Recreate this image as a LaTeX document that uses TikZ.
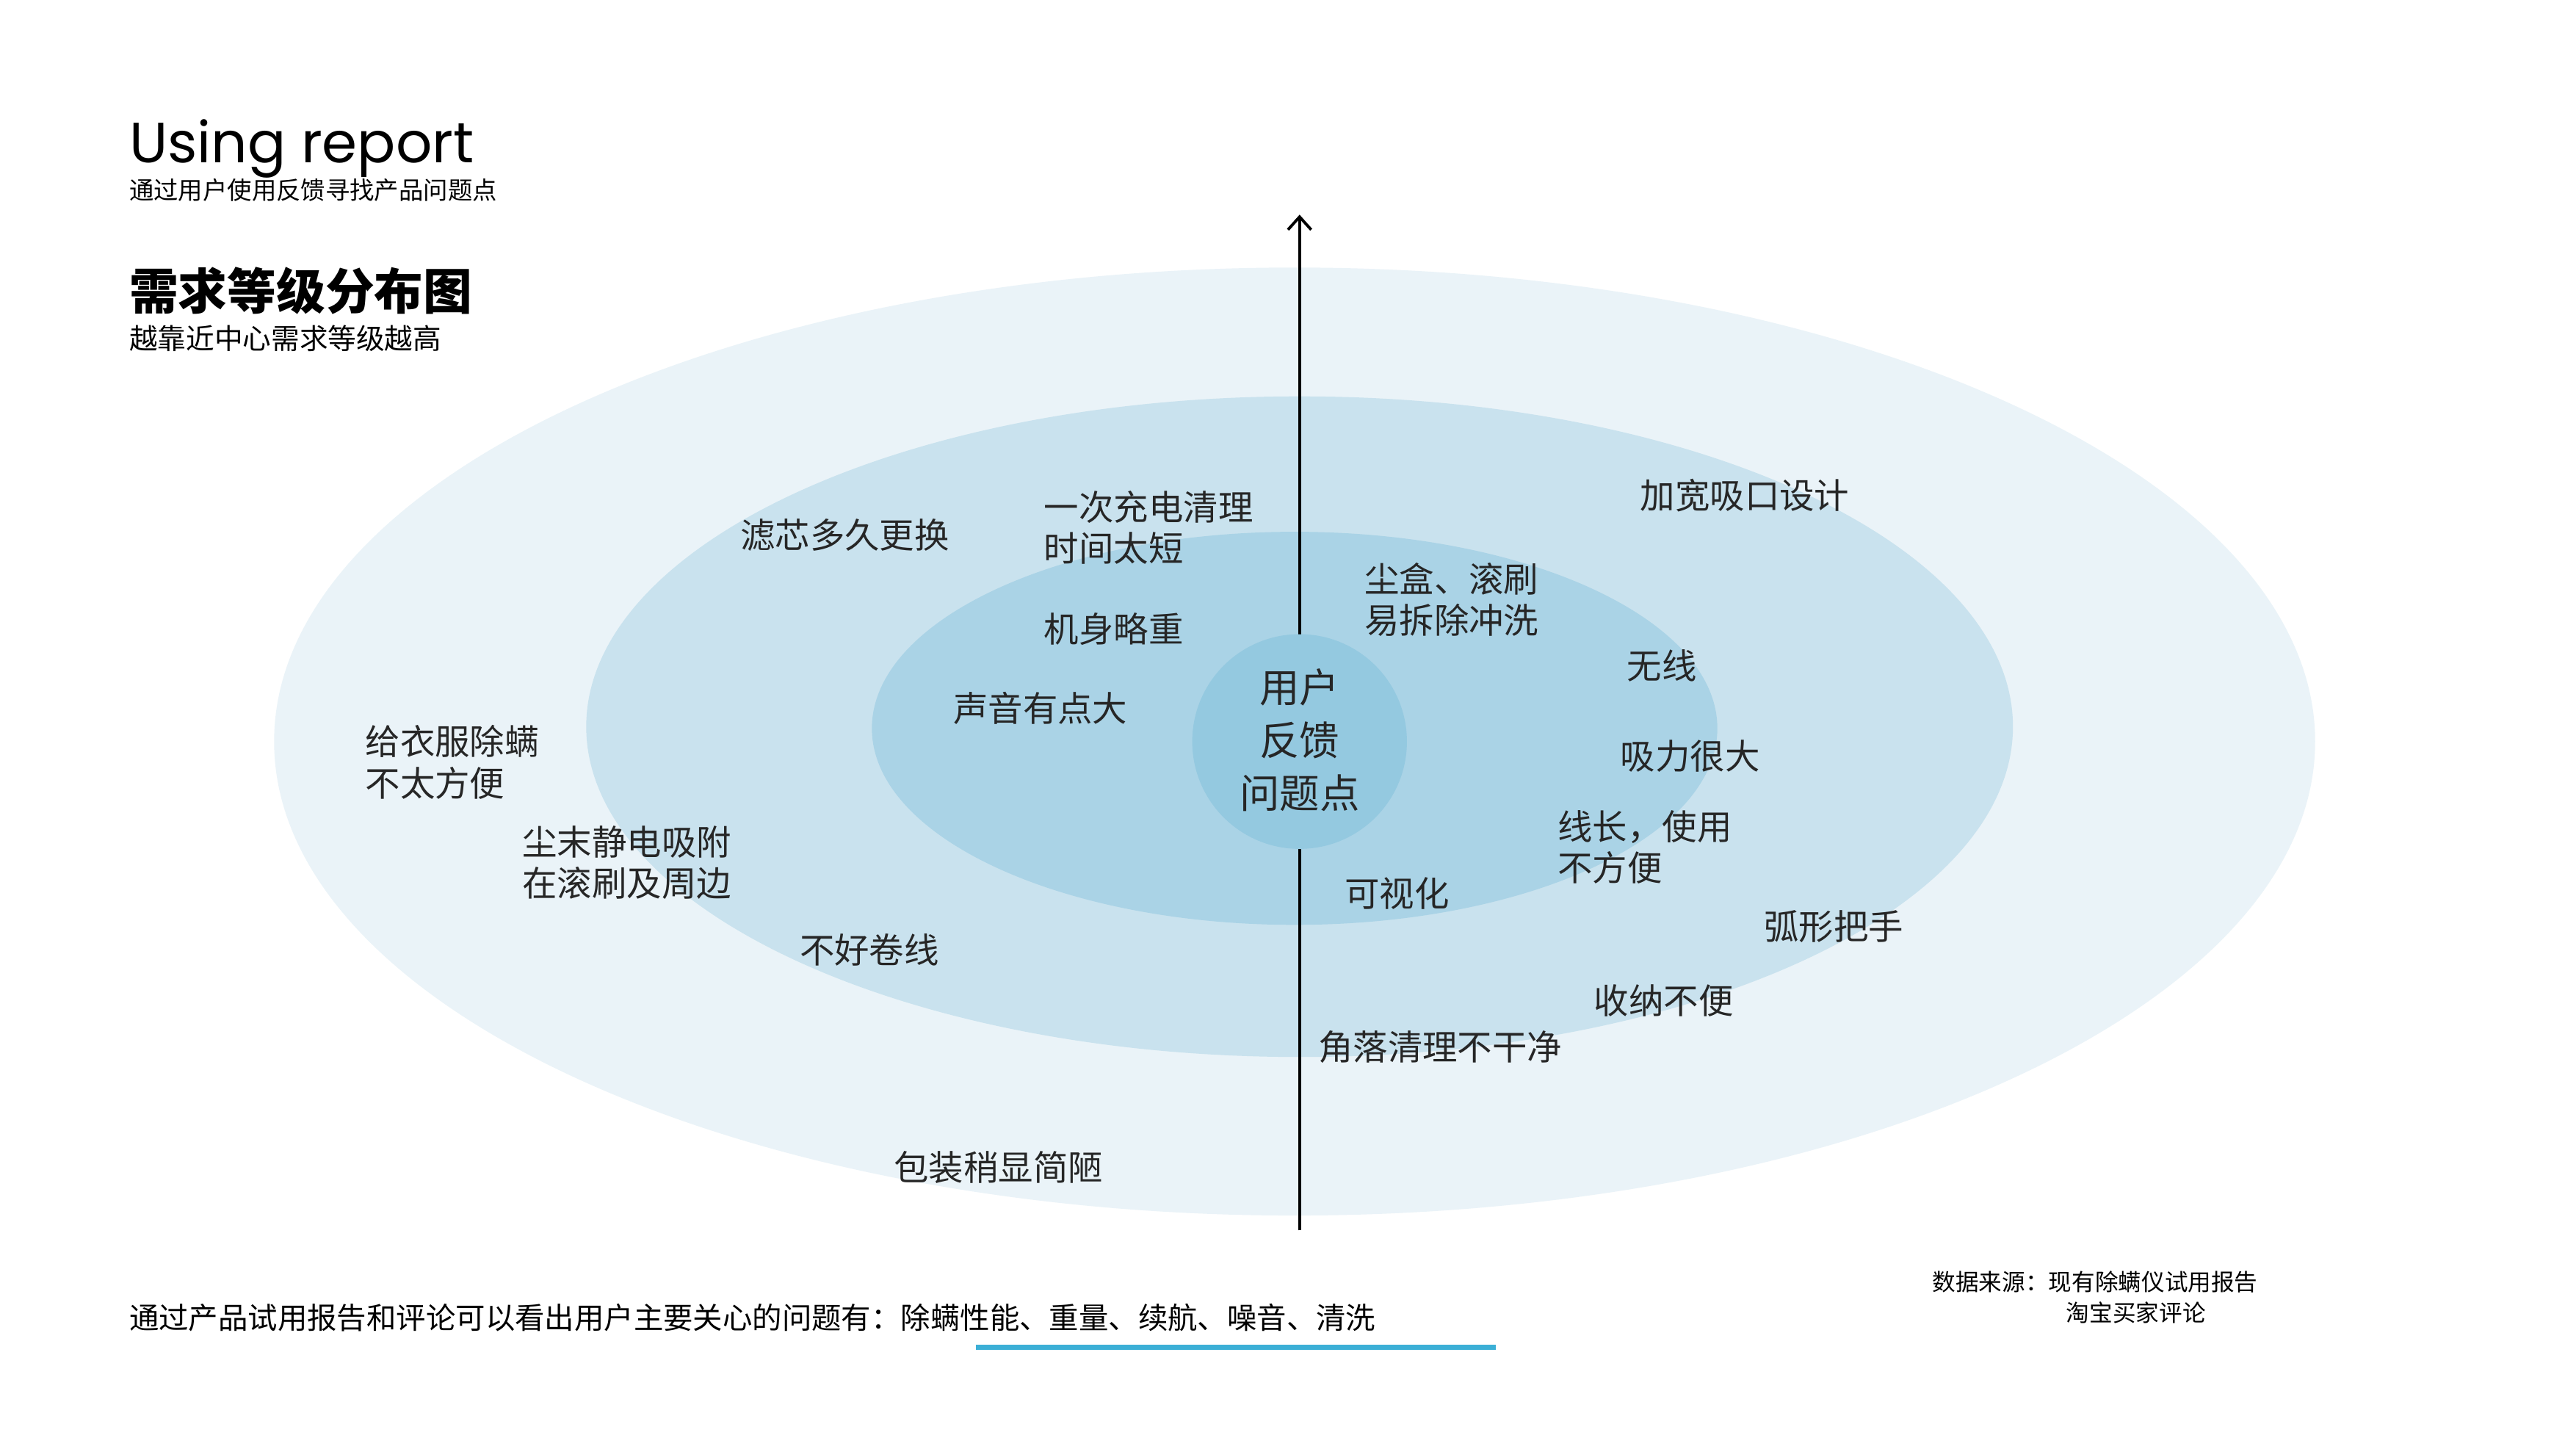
\documentclass[tikz,border=0pt]{standalone}
\usepackage{fontspec}
\usetikzlibrary{arrows.meta}
\setmainfont{Noto Sans CJK SC}
\newfontfamily\popp{Poppins}
\begin{document}
\begin{tikzpicture}[x=0.02249cm,y=-0.02249cm,
  lab/.style={anchor=west,inner sep=0pt,align=left,font=\fontsize{13.5}{16}\selectfont,text=black!85},
  ctr/.style={inner sep=0pt,align=center,font=\fontsize{15.5}{20.5}\selectfont,text=black!85}]
\useasboundingbox[fill=white] (0,0) rectangle (1560,877.3);
\fill[fill={rgb,255:red,234;green,243;blue,248}] (784,449) ellipse [x radius=618,y radius=287];
\fill[fill={rgb,255:red,201;green,226;blue,238}] (787,440) ellipse [x radius=432,y radius=200];
\fill[fill={rgb,255:red,170;green,211;blue,230}] (784,441) ellipse [x radius=256,y radius=119];
\coordinate (bot) at (787,745);
\coordinate (top) at (787,130);
\draw[line width=1.1pt,-{Straight Barb[length=5pt,width=9pt]}] (bot) -- (top);
\node[circle,minimum size=130*0.02249cm,inner sep=0pt,fill={rgb,255:red,148;green,201;blue,224}] (c) at (787,449) {};
\node[ctr] (ct) at (787,448) {用户\\反馈\\问题点};
\node[anchor=west,inner sep=0pt,font=\popp\fontsize{22}{24}\selectfont] (t1) at (78,90) {Using report};
\node[anchor=west,inner sep=0pt,font=\fontsize{9.5}{11}\selectfont] (t2) at (78,115) {通过用户使用反馈寻找产品问题点};
\node[anchor=west,inner sep=0pt,font=\bfseries\fontsize{19}{22}\selectfont] (t3) at (78,176) {需求等级分布图};
\node[anchor=west,inner sep=0pt,font=\fontsize{11}{13}\selectfont] (t4) at (78,205) {越靠近中心需求等级越高};
\node[lab] (a1) at (448,324) {滤芯多久更换};
\node[lab] (a2) at (632,319.5) {一次充电清理\\时间太短};
\node[lab] (a3) at (993,300) {加宽吸口设计};
\node[lab] (a4) at (826,363) {尘盒、滚刷\\易拆除冲洗};
\node[lab] (a5) at (632,381) {机身略重};
\node[lab] (a6) at (985,403) {无线};
\node[lab] (a7) at (577,429) {声音有点大};
\node[lab] (a8) at (221,461.5) {给衣服除螨\\不太方便};
\node[lab] (a9) at (981,458) {吸力很大};
\node[lab] (a10) at (943,513) {线长，使用\\不方便};
\node[lab] (a11) at (316,522.5) {尘末静电吸附\\在滚刷及周边};
\node[lab] (a12) at (814,541) {可视化};
\node[lab] (a13) at (1068,561) {弧形把手};
\node[lab] (a14) at (484,575) {不好卷线};
\node[lab] (a15) at (965,606) {收纳不便};
\node[lab] (a16) at (798,634) {角落清理不干净};
\node[lab] (a17) at (541,707) {包装稍显简陋};
\node[anchor=west,inner sep=0pt,font=\fontsize{11.5}{13}\selectfont] (b) at (78,798) {通过产品试用报告和评论可以看出用户主要关心的问题有：除螨性能、重量、续航、噪音、清洗};
\coordinate (u1) at (591,816); \coordinate (u2) at (906,816);
\draw[line width=2pt,draw={rgb,255:red,59;green,175;blue,214}] (u1) -- (u2);
\node[anchor=west,inner sep=0pt,font=\fontsize{9}{11}\selectfont] (d1) at (1170,776) {数据来源：现有除螨仪试用报告};
\node[anchor=west,inner sep=0pt,font=\fontsize{9}{11}\selectfont] (d2) at (1251,795) {淘宝买家评论};
\end{tikzpicture}
\end{document}
